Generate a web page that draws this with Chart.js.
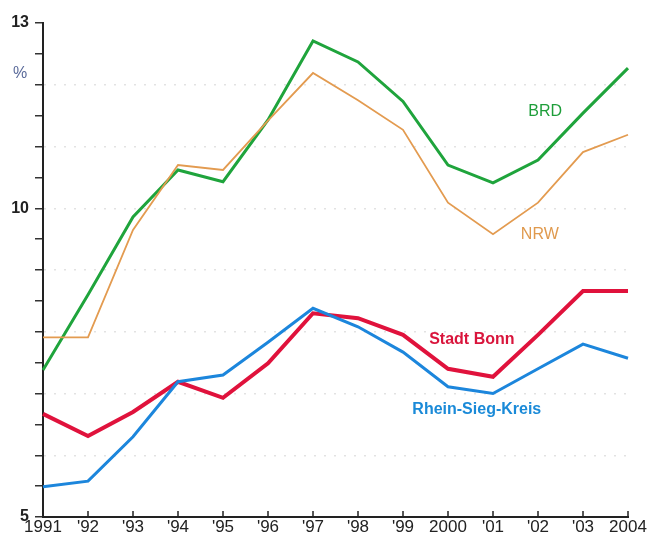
<!DOCTYPE html>
<html>
<head>
<meta charset="utf-8">
<script src="https://cdn.jsdelivr.net/npm/chart.js@4/dist/chart.umd.min.js"></script>
<style>
  body { margin: 0; background: #fff; }
  #wrap { width: 647px; height: 544px; }
</style>
</head>
<body>
<div id="wrap"><canvas id="chart" width="647" height="544"></canvas></div>
<script>
const years = ['1991', "'92", "'93", "'94", "'95", "'96", "'97", "'98", "'99", '2000', "'01", "'02", "'03", '2004'];
const brd = [7.38, 8.6, 9.86, 10.62, 10.43, 11.43, 12.71, 12.37, 11.73, 10.70, 10.41, 10.78, 11.54, 12.27];
const nrw = [7.91, 7.91, 9.65, 10.70, 10.62, 11.42, 12.19, 11.75, 11.27, 10.09, 9.58, 10.09, 10.91, 11.19];
const bonn = [6.67, 6.31, 6.70, 7.19, 6.93, 7.49, 8.30, 8.22, 7.95, 7.40, 7.27, 7.95, 8.66, 8.66];
const rsk = [5.49, 5.58, 6.30, 7.19, 7.30, 7.83, 8.38, 8.08, 7.67, 7.11, 7.00, 7.40, 7.80, 7.57];
const majorTicks = [5, 10, 13];

// series labels sit inside the plot, given in data space (category index, value)
const seriesLabels = [
    { text: 'BRD', x: 11.16, y: 11.56, color: '#1e9e3a', bold: false },
    { text: 'NRW', x: 11.04, y: 9.58, color: '#e09a4e', bold: false },
    { text: 'Stadt Bonn', x: 9.53, y: 7.88, color: '#d9153c', bold: true },
    { text: 'Rhein-Sieg-Kreis', x: 9.64, y: 6.74, color: '#1a8ad8', bold: true }
];

const FONT = '"Liberation Sans", Arial, sans-serif';

const overlay = {
    id: 'overlay',
    afterDraw(chart) {
        const ctx = chart.ctx;
        const xs = chart.scales.x;
        const ys = chart.scales.y;
        ctx.save();
        // upward tick marks on the x axis
        ctx.strokeStyle = '#222';
        ctx.lineWidth = 1.5;
        xs.ticks.forEach(function(t, i) {
            const px = xs.getPixelForTick(i);
            ctx.beginPath();
            ctx.moveTo(px, ys.bottom);
            ctx.lineTo(px, ys.bottom - 6);
            ctx.stroke();
        });
        // unit label
        ctx.fillStyle = '#5a6a9a';
        ctx.font = '16px ' + FONT;
        ctx.textAlign = 'center';
        ctx.textBaseline = 'middle';
        ctx.fillText('%', 20, ys.getPixelForValue(12.18));
        // series labels
        seriesLabels.forEach(function(l) {
            ctx.fillStyle = l.color;
            ctx.font = (l.bold ? 'bold ' : '') + '16px ' + FONT;
            ctx.fillText(l.text, xs.getPixelForValue(l.x), ys.getPixelForValue(l.y));
        });
        ctx.restore();
    }
};

new Chart(document.getElementById('chart').getContext('2d'), {
    type: 'line',
    data: {
        labels: years,
        datasets: [
            { label: 'NRW', data: nrw, borderColor: '#e39b50', borderWidth: 1.8 },
            { label: 'BRD', data: brd, borderColor: '#1fa43c', borderWidth: 3 },
            { label: 'Rhein-Sieg-Kreis', data: rsk, borderColor: '#1c86dc', borderWidth: 3 },
            { label: 'Stadt Bonn', data: bonn, borderColor: '#e0123c', borderWidth: 4 }
        ]
    },
    options: {
        responsive: false,
        animation: false,
        layout: { padding: { top: 23, right: 19, left: 0, bottom: 0 } },
        elements: {
            point: { radius: 0 },
            line: { tension: 0, borderJoinStyle: 'miter', borderCapStyle: 'butt' }
        },
        plugins: {
            legend: { display: false },
            tooltip: { enabled: false }
        },
        scales: {
            x: {
                offset: false,
                afterFit: function(scale) { scale.height = 27; },
                border: { display: true, color: '#222', width: 2 },
                grid: { display: false, drawTicks: false },
                ticks: {
                    color: '#222',
                    font: { size: 17, family: FONT },
                    padding: 0,
                    maxRotation: 0,
                    autoSkip: false
                }
            },
            y: {
                min: 5,
                max: 13,
                afterFit: function(scale) { scale.width = 43; },
                border: { display: true, color: '#222', width: 2, dash: [2, 8] },
                grid: {
                    drawOnChartArea: true,
                    color: function(c) {
                        const v = c.tick && c.tick.value;
                        return (Number.isInteger(v) && v > 5 && v < 13) ? 'rgba(190,190,190,0.45)' : 'rgba(0,0,0,0)';
                    },
                    tickColor: '#333',
                    tickLength: 8,
                    tickBorderDash: [],
                    lineWidth: 1.5
                },
                ticks: {
                    stepSize: 0.5,
                    color: '#222',
                    padding: 6,
                    font: { size: 16, weight: 'bold', family: FONT },
                    callback: function(v) { return majorTicks.includes(v) ? String(v) : ''; }
                }
            }
        }
    },
    plugins: [overlay]
});
</script>
</body>
</html>
